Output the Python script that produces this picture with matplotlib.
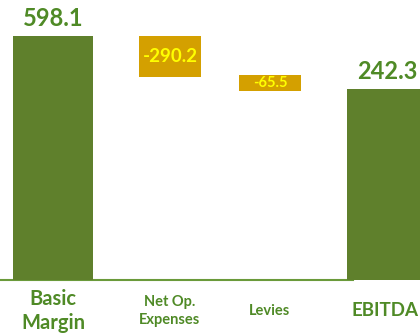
import matplotlib
matplotlib.use("Agg")
import matplotlib.pyplot as plt

# Data
categories = ["Basic\nMargin", "Net Op.\nExpenses", "Levies", "EBITDA"]
value_labels = ["598.1", "-290.2", "-65.5", "242.3"]
# drawn extents of each bar (as they appear in the reference)
bar_low = [0.0, 497.6, 463.3, 0.0]
bar_high = [598.1, 598.1, 502.5, 468.2]
is_total = [True, False, False, True]
x_pos = [0.0, 1.17, 2.17, 3.34]

GREEN = "#5F802C"
TEXT_GREEN = "#4F8A26"
GOLD = "#D4A000"
YELLOW = "#FFFF00"

plt.rcParams["font.family"] = ["Lato", "DejaVu Sans"]

fig = plt.figure(figsize=(4.2, 3.34), dpi=100)
ax = fig.add_axes([0, 0, 1, 1])
s = 244 / 598.1
ax.set_xlim(-0.53, 3.67)
ax.set_ylim(-54 / s, 280 / s)
ax.axis("off")

# baseline
ax.plot([-0.54, 3.0], [0, 0], color="#6A9A3A", lw=1.5, zorder=1)

for i, cat in enumerate(categories):
    lo, hi = bar_low[i], bar_high[i]
    if is_total[i]:
        ax.bar(x_pos[i], hi - lo, bottom=lo, width=0.8, color=GREEN, zorder=2)
        ax.annotate(value_labels[i], xy=(x_pos[i], hi), xytext=(0, 17),
                    textcoords="offset pixels", ha="center", va="center",
                    fontsize=17, fontweight="bold", color=TEXT_GREEN)
        last = i == len(categories) - 1
        ax.annotate(cat, xy=(x_pos[i], 0), xytext=(-2 if last else 0, -31),
                    textcoords="offset pixels", ha="center", va="center",
                    fontsize=13.5 if last else 14.5, fontweight="bold",
                    color=TEXT_GREEN, linespacing=1.2)
    else:
        ax.bar(x_pos[i], hi - lo, bottom=lo, width=0.62, color=GOLD, zorder=2)
        fs = 13.5 if (hi - lo) > 60 else 10.5
        ax.text(x_pos[i], (hi + lo) / 2, value_labels[i], ha="center",
                va="center", fontsize=fs, fontweight="bold", color=YELLOW,
                zorder=3)
        ax.annotate(cat, xy=(x_pos[i], 0), xytext=(0, -31),
                    textcoords="offset pixels", ha="center", va="center",
                    fontsize=10.5, fontweight="bold", color=TEXT_GREEN,
                    linespacing=1.3)

fig.savefig("out.png", dpi=100)
